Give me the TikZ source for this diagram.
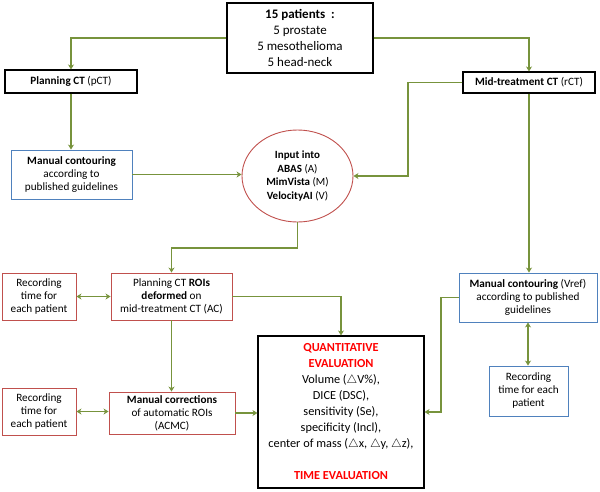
\documentclass[tikz,border=0pt]{standalone}
\usepackage{fontspec}
\setmainfont{Carlito}
\usetikzlibrary{arrows.meta,shapes.geometric}
\definecolor{arrgreen}{HTML}{77933C}
\definecolor{boxred}{HTML}{C0504D}
\definecolor{boxblue}{HTML}{4F81BD}
\definecolor{txtred}{HTML}{FF0000}
\tikzset{
  base/.style={rectangle,align=center,inner sep=1pt,font=\fontsize{11.2}{13}\selectfont},
  blk/.style={base,draw=black,line width=1.1pt},
  redbox/.style={base,draw=boxred,line width=0.9pt},
  bluebox/.style={base,draw=boxblue,line width=0.9pt},
  arr/.style={draw=arrgreen,line width=1.2pt,-{Stealth[length=5pt,width=6pt,inset=1.5pt]}},
  darr/.style={draw=arrgreen,line width=1.2pt,{Stealth[length=5pt,width=6pt,inset=1.5pt]}-{Stealth[length=5pt,width=6pt,inset=1.5pt]}},
}
\begin{document}
\begin{tikzpicture}[x=1pt,y=-1pt]
\useasboundingbox (0,0) rectangle (600,491);
\node[blk,minimum width=146pt,minimum height=70pt,font=\fontsize{13}{16}\selectfont] (top) at (300,38)
  {\textbf{15 patients~~:}\\5 prostate\\5 mesothelioma\\5 head-neck};
\node[blk,minimum width=132pt,minimum height=23pt] (pct) at (71,81.5) {\textbf{Planning CT} (pCT)};
\node[blk,minimum width=132pt,minimum height=21pt] (rct) at (529,82.5) {\textbf{Mid-treatment CT} (rCT)};
\node[bluebox,minimum width=121pt,minimum height=49pt] (mc1) at (71.5,174.5)
  {\textbf{Manual contouring}\\according to\\published guidelines};
\node[ellipse,draw=boxred,line width=0.9pt,minimum width=111pt,minimum height=92pt,inner sep=0pt,align=center,font=\fontsize{11}{13.5}\selectfont] (ell) at (297.5,176)
  {\textbf{Input into}\\\textbf{ABAS} (A)\\\textbf{MimVista} (M)\\\textbf{VelocityAI} (V)};
\node[redbox,minimum width=121pt,minimum height=47pt] (roi) at (171.5,296.5)
  {Planning CT \textbf{ROIs}\\\textbf{deformed} on\\mid-treatment CT (AC)};
\node[redbox,minimum width=74pt,minimum height=47pt] (rec1) at (39,296.5)
  {Recording\\time for\\each patient};
\node[redbox,minimum width=126pt,minimum height=42pt] (mcorr) at (172,413)
  {\textbf{Manual corrections}\\of automatic ROIs\\(ACMC)};
\node[redbox,minimum width=74pt,minimum height=47pt] (rec2) at (39,411.5)
  {Recording\\time for\\each patient};
\node[blk,minimum width=166pt,minimum height=152pt,font=\fontsize{12.3}{16}\selectfont] (quant) at (341,412)
  {\textcolor{txtred}{\textbf{QUANTITATIVE}}\\\textcolor{txtred}{\textbf{EVALUATION}}\\
   Volume ($\triangle$V\%),\\DICE (DSC),\\sensitivity (Se),\\specificity (Incl),\\
   center of mass ($\triangle$x, $\triangle$y, $\triangle$z),\\[16pt]\textcolor{txtred}{\textbf{TIME EVALUATION}}};
\node[bluebox,minimum width=138pt,minimum height=49pt] (mc2) at (528,297.5)
  {\textbf{Manual contouring} (Vref)\\according to published\\guidelines};
\node[bluebox,minimum width=79pt,minimum height=50pt] (rec3) at (528.5,391)
  {Recording\\time for each\\patient};
\coordinate (c1) at (408,176);
\coordinate (c2) at (297.5,248);
\coordinate (c3) at (441,412);
\draw[arr] (top.west) -| (pct.north);
\draw[arr] (top.east) -| (rct.north);
\draw[arr] (pct.south) -- (pct.south |- mc1.north);
\draw[arr] (mc1.east) -- (mc1.east -| ell.west);
\draw[arr] (rct.west) -| (c1) -- (ell.east);
\draw[arr] (ell.south) -- (c2) -| (roi.north);
\draw[arr] (roi.east) -| (quant.north);
\draw[arr] (roi.south) -- (roi.south |- mcorr.north);
\draw[darr] (rec1.east) -- (roi.west);
\draw[darr] (rec2.east) -- (rec2.east -| mcorr.west);
\draw[arr] (mcorr.east) -- (mcorr.east -| quant.west);
\draw[arr] (rct.south) -- (rct.south |- mc2.north);
\draw[arr] (mc2.west) -| (c3) -- (quant.east);
\draw[darr] (mc2.south) -- (mc2.south |- rec3.north);
\end{tikzpicture}
\end{document}
